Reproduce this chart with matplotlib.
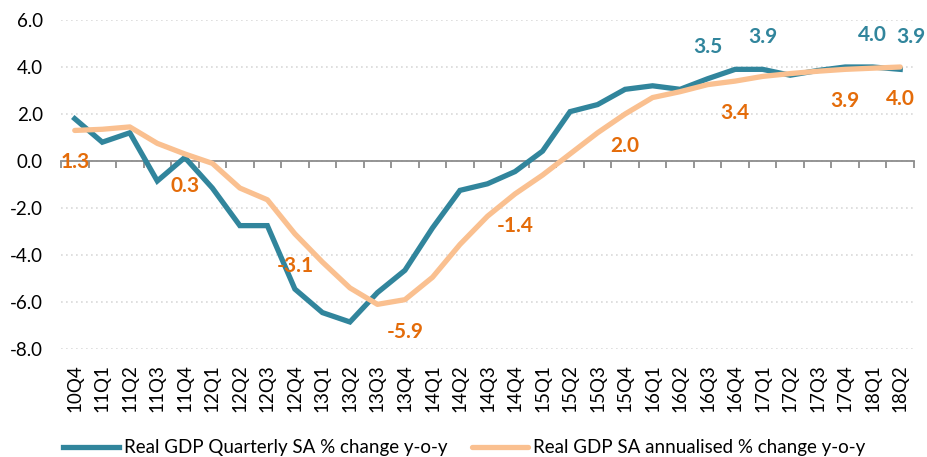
import matplotlib
matplotlib.use("Agg")
import matplotlib.pyplot as plt
import numpy as np

plt.rcParams['font.family'] = ['Lato', 'DejaVu Sans']
plt.rcParams['axes.unicode_minus'] = False

categories = ['10Q4', '11Q1', '11Q2', '11Q3', '11Q4', '12Q1', '12Q2', '12Q3', '12Q4',
              '13Q1', '13Q2', '13Q3', '13Q4', '14Q1', '14Q2', '14Q3', '14Q4',
              '15Q1', '15Q2', '15Q3', '15Q4', '16Q1', '16Q2', '16Q3', '16Q4',
              '17Q1', '17Q2', '17Q3', '17Q4', '18Q1', '18Q2']

quarterly = [1.8, 0.8, 1.2, -0.85, 0.15, -1.15, -2.75, -2.75, -5.45, -6.45, -6.85, -5.6,
             -4.65, -2.85, -1.25, -0.97, -0.45, 0.42, 2.1, 2.4, 3.05, 3.2, 3.05, 3.5,
             3.9, 3.9, 3.65, 3.85, 4.0, 4.0, 3.9]

annualised = [1.3, 1.35, 1.45, 0.75, 0.3, -0.1, -1.15, -1.65, -3.1, -4.3, -5.4, -6.1,
              -5.9, -4.95, -3.55, -2.35, -1.4, -0.6, 0.3, 1.2, 2.0, 2.7, 2.95, 3.25,
              3.4, 3.6, 3.72, 3.82, 3.9, 3.95, 4.0]

quarterly_labels = ['16Q3', '17Q1', '18Q1', '18Q2']
annualised_labels = ['10Q4', '11Q4', '12Q4', '13Q4', '14Q4', '15Q4', '16Q4', '17Q4', '18Q2']

series_names = ['Real GDP Quarterly SA % change y-o-y',
                'Real GDP SA annualised % change y-o-y']

BLUE = '#31859C'
PEACH = '#FAC090'
ORANGE = '#E46C0A'

W, H = 927, 457
fig = plt.figure(figsize=(W / 100, H / 100), dpi=100)
ax = fig.add_axes([61 / W, 1 - 349 / H, (914 - 61) / W, (349 - 20) / H])

x = np.arange(len(categories))
l1, = ax.plot(x, quarterly, color=BLUE, lw=3.8, solid_joinstyle='miter', zorder=3)
l2, = ax.plot(x, annualised, color=PEACH, lw=3.8, solid_joinstyle='round',
              solid_capstyle='round', zorder=4)

ax.set_xlim(-0.5, len(categories) - 0.5)
ax.set_ylim(-8, 6)
ax.set_yticks(np.arange(-8, 7, 2))
ax.set_yticklabels([f'{v:.1f}' for v in np.arange(-8, 7, 2)], fontsize=13.5)
ax.tick_params(axis='y', length=0, pad=13)
ax.yaxis.grid(True, linestyle=(0, (1, 2)), color='#D9D9D9', lw=1.2)
ax.set_axisbelow(True)

for s in ['top', 'right', 'left']:
    ax.spines[s].set_visible(False)
ax.spines['bottom'].set_position(('data', 0))
ax.spines['bottom'].set_color('#8C8C8C')
ax.spines['bottom'].set_linewidth(1.3)
ax.spines['bottom'].set_zorder(2)
ax.set_xticks(x)
ax.set_xticklabels([])
ax.set_xticks(np.arange(-0.5, len(categories), 1), minor=True)
ax.tick_params(axis='x', which='major', length=0)
ax.tick_params(axis='x', which='minor', length=5, width=1.3, color='#8C8C8C', direction='out')

sec = ax.secondary_xaxis('bottom')
sec.set_xticks(x)
sec.set_xticklabels(categories, rotation=90, fontsize=13.5)
sec.tick_params(length=0, pad=11)
sec.spines['bottom'].set_visible(False)

for c in annualised_labels:
    i = categories.index(c)
    ax.annotate(f'{annualised[i]:.1f}', (i, annualised[i]), xytext=(0, -23),
                textcoords='offset points', ha='center', va='center',
                color=ORANGE, fontsize=15, fontweight='bold', zorder=5)

for c in quarterly_labels:
    i = categories.index(c)
    dx = 8 if i == len(categories) - 1 else 0
    ax.annotate(f'{quarterly[i]:.1f}', (i, quarterly[i]), xytext=(dx, 23),
                textcoords='offset points', ha='center', va='center',
                color=BLUE, fontsize=15, fontweight='bold', zorder=5)

fig.legend([l1, l2], series_names, loc='center left',
           bbox_to_anchor=(63 / W, 1 - 448 / H), ncol=2, frameon=False,
           fontsize=13.5, handlelength=3.0, handletextpad=0.25, columnspacing=1.3,
           borderpad=0, borderaxespad=0)

fig.savefig('out.png', dpi=100)
